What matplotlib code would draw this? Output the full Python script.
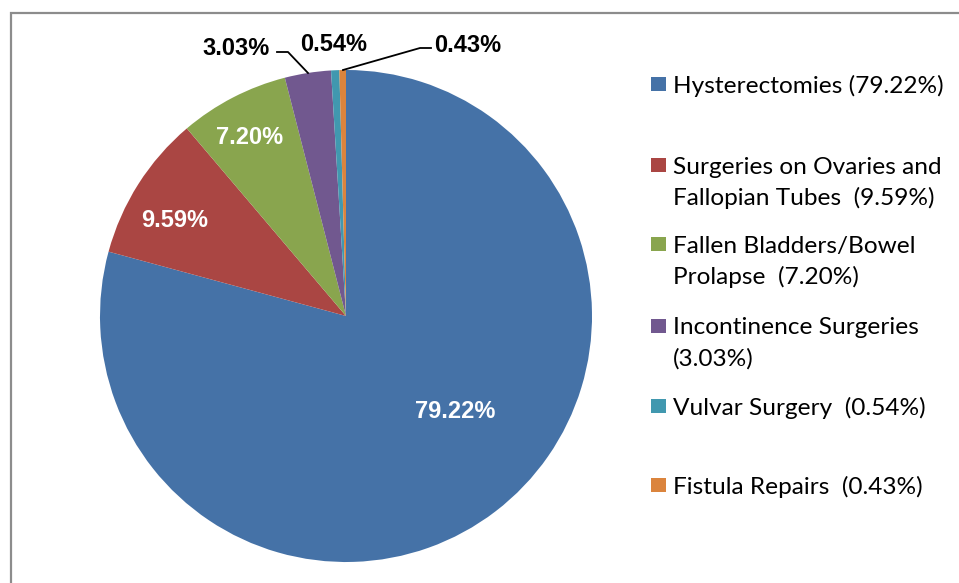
import matplotlib
matplotlib.use("Agg")
import matplotlib.pyplot as plt
from matplotlib.patches import Rectangle

plt.rcParams['font.family'] = ['Lato', 'DejaVu Sans']

# slice data, clockwise from 12 o'clock
categories = ["Hysterectomies", "Surgeries on Ovaries and Fallopian Tubes",
              "Fallen Bladders/Bowel Prolapse", "Incontinence Surgeries",
              "Vulvar Surgery", "Fistula Repairs"]
shares = [79.22, 9.59, 7.20, 3.03, 0.54, 0.43]
legend_labels = ["Hysterectomies (79.22%)",
                 "Surgeries on Ovaries and\nFallopian Tubes  (9.59%)",
                 "Fallen Bladders/Bowel\nProlapse  (7.20%)",
                 "Incontinence Surgeries\n(3.03%)",
                 "Vulvar Surgery  (0.54%)",
                 "Fistula Repairs  (0.43%)"]
colors = ["#4572A7", "#AA4643", "#89A54E", "#71588F", "#4198AF", "#DB843D"]

W, H = 959, 583
fig = plt.figure(figsize=(W / 100, H / 100), dpi=100)
ax = fig.add_axes([0, 0, 1, 1])

# outer frame (runs off the right and bottom edges)
fig.patches.append(Rectangle((11 / W, -0.1), 2, (H - 13) / H + 0.1,
                             transform=fig.transFigure, fill=False,
                             edgecolor="#8c8c8c", linewidth=1.6))

cx, cy, r = 346, H - 316, 246
wedges, _ = ax.pie(shares, colors=colors, startangle=90, counterclock=False,
                   center=(cx, cy), radius=r, frame=True,
                   wedgeprops=dict(linewidth=0))
ax.set_xlim(0, W)
ax.set_ylim(0, H)
ax.set_aspect('equal')
ax.axis('off')

# data labels (pixel positions from the top-left)
lab_pos = [(455, 409), (175, 218), (250, 135), (236, 46), (334, 42), (468, 43)]
lab_col = ["white", "white", "white", "black", "black", "black"]
for v, (x, y), c in zip(shares, lab_pos, lab_col):
    ax.text(x, H - y, f"{v:.2f}%", ha="center", va="center_baseline", color=c,
            fontsize=17, fontweight="bold", family="Liberation Sans")

# leader lines
ax.plot([277, 288, 308], [H - 52, H - 52, H - 73], color="black", lw=1.3)
ax.plot([343, 420, 431], [H - 70, H - 48, H - 48], color="black", lw=1.3)

# legend
leg_y = [84, 165, 244, 326, 406, 485]
for lbl, c, y in zip(legend_labels, colors, leg_y):
    ax.add_patch(Rectangle((651, H - y - 7), 15, 14, facecolor=c, edgecolor="none"))
    for i, line in enumerate(lbl.split("\n")):
        ax.text(673, H - y - 31 * i, line, ha="left", va="center_baseline",
                fontsize=17.6, color="black")

fig.savefig("out.png", dpi=100)
